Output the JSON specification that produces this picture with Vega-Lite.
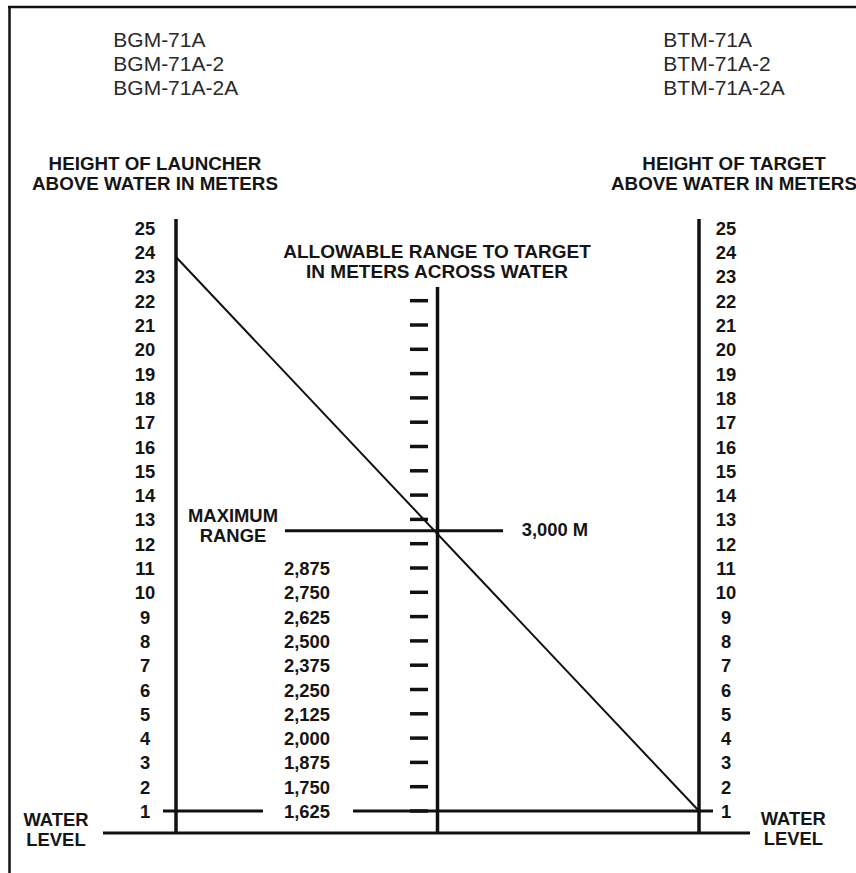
{
  "$schema": "https://vega.github.io/schema/vega-lite/v6.json",
  "width": 856,
  "height": 873,
  "autosize": {"type": "none"},
  "padding": 0,
  "background": "white",
  "config": {"view": {"stroke": null}, "text": {"font": "Liberation Sans", "fontWeight": "bold", "fontSize": 18.4, "color": "#151515"}, "rule": {"color": "#111111"}},
  "datasets": {
    "heights": [{"h":1},{"h":2},{"h":3},{"h":4},{"h":5},{"h":6},{"h":7},{"h":8},{"h":9},{"h":10},{"h":11},{"h":12},{"h":13},{"h":14},{"h":15},{"h":16},{"h":17},{"h":18},{"h":19},{"h":20},{"h":21},{"h":22},{"h":23},{"h":24},{"h":25}],
    "ranges": [
      {"h":1,"range":1625},{"h":2,"range":1750},{"h":3,"range":1875},{"h":4,"range":2000},{"h":5,"range":2125},{"h":6,"range":2250},{"h":7,"range":2375},{"h":8,"range":2500},{"h":9,"range":2625},{"h":10,"range":2750},{"h":11,"range":2875}
    ],
    "sight": [{"launcher": 23.8, "target": 1}]
  },
  "data": {"name": "sight"},
  "layer": [
    {"mark": {"type": "rule", "strokeWidth": 2.5},
     "encoding": {"x": {"datum": -0.6424, "type": "quantitative", "scale": {"domain": [-0.67304, 2.60038], "nice": false, "zero": false}, "axis": null},
                  "x2": {"datum": 2.6004},
                  "y": {"datum": 34.0864, "type": "quantitative", "scale": {"domain": [-1.5514, 34.3745], "nice": false, "zero": false}, "axis": null}}},
    {"mark": {"type": "rule", "strokeWidth": 2.5},
     "encoding": {"x": {"datum": -0.6367, "type": "quantitative", "scale": {"domain": [-0.67304, 2.60038], "nice": false, "zero": false}, "axis": null},
                  "y": {"datum": 34.13, "type": "quantitative", "scale": {"domain": [-1.5514, 34.3745], "nice": false, "zero": false}, "axis": null},
                  "y2": {"datum": -1.5514}}},
    {"mark": {"type": "rule", "strokeWidth": 3.5},
     "encoding": {"x": {"datum": 0, "type": "quantitative", "scale": {"domain": [-0.67304, 2.60038], "nice": false, "zero": false}, "axis": null},
                  "y": {"datum": 0.0947, "type": "quantitative", "scale": {"domain": [-1.5514, 34.3745], "nice": false, "zero": false}, "axis": null},
                  "y2": {"datum": 25.362}}},
    {"mark": {"type": "rule", "strokeWidth": 3.5},
     "encoding": {"x": {"datum": 1, "type": "quantitative", "scale": {"domain": [-0.67304, 2.60038], "nice": false, "zero": false}, "axis": null},
                  "y": {"datum": 0.0947, "type": "quantitative", "scale": {"domain": [-1.5514, 34.3745], "nice": false, "zero": false}, "axis": null},
                  "y2": {"datum": 22.564}}},
    {"mark": {"type": "rule", "strokeWidth": 3.5},
     "encoding": {"x": {"datum": 2, "type": "quantitative", "scale": {"domain": [-0.67304, 2.60038], "nice": false, "zero": false}, "axis": null},
                  "y": {"datum": 0.0947, "type": "quantitative", "scale": {"domain": [-1.5514, 34.3745], "nice": false, "zero": false}, "axis": null},
                  "y2": {"datum": 25.362}}},
    {"mark": {"type": "rule", "strokeWidth": 3},
     "encoding": {"x": {"datum": -0.2792, "type": "quantitative", "scale": {"domain": [-0.67304, 2.60038], "nice": false, "zero": false}, "axis": null},
                  "x2": {"datum": 2.195},
                  "y": {"datum": 0.0947, "type": "quantitative", "scale": {"domain": [-1.5514, 34.3745], "nice": false, "zero": false}, "axis": null}}},
    {"mark": {"type": "rule", "strokeWidth": 3},
     "encoding": {"x": {"datum": -0.0497, "type": "quantitative", "scale": {"domain": [-0.67304, 2.60038], "nice": false, "zero": false}, "axis": null},
                  "x2": {"datum": 0.3327},
                  "y": {"datum": 1, "type": "quantitative", "scale": {"domain": [-1.5514, 34.3745], "nice": false, "zero": false}, "axis": null}}},
    {"mark": {"type": "rule", "strokeWidth": 3},
     "encoding": {"x": {"datum": 0.6769, "type": "quantitative", "scale": {"domain": [-0.67304, 2.60038], "nice": false, "zero": false}, "axis": null},
                  "x2": {"datum": 2.0535},
                  "y": {"datum": 1, "type": "quantitative", "scale": {"domain": [-1.5514, 34.3745], "nice": false, "zero": false}, "axis": null}}},
    {"mark": {"type": "rule", "strokeWidth": 3},
     "encoding": {"x": {"datum": 0.4168, "type": "quantitative", "scale": {"domain": [-0.67304, 2.60038], "nice": false, "zero": false}, "axis": null},
                  "x2": {"datum": 1.2505},
                  "y": {"datum": 12.535, "type": "quantitative", "scale": {"domain": [-1.5514, 34.3745], "nice": false, "zero": false}, "axis": null}}},
    {"data": {"name": "heights"},
     "transform": [{"filter": "datum.h <= 22"}],
     "mark": {"type": "rule", "strokeWidth": 3.5},
     "encoding": {"x": {"datum": 0.8948, "type": "quantitative", "scale": {"domain": [-0.67304, 2.60038], "nice": false, "zero": false}, "axis": null},
                  "x2": {"datum": 0.9637},
                  "y": {"field": "h", "type": "quantitative", "scale": {"domain": [-1.5514, 34.3745], "nice": false, "zero": false}, "axis": null}}},
    {"mark": {"type": "rule", "strokeWidth": 2},
     "encoding": {"x": {"datum": 0, "type": "quantitative", "scale": {"domain": [-0.67304, 2.60038], "nice": false, "zero": false}, "axis": null},
                  "x2": {"datum": 2},
                  "y": {"field": "launcher", "type": "quantitative", "scale": {"domain": [-1.5514, 34.3745], "nice": false, "zero": false}, "axis": null},
                  "y2": {"field": "target"}}},
    {"data": {"name": "heights"},
     "mark": {"type": "text", "align": "center", "baseline": "middle", "dx": -31, "dy": 1},
     "encoding": {"x": {"datum": 0, "type": "quantitative", "scale": {"domain": [-0.67304, 2.60038], "nice": false, "zero": false}, "axis": null},
                  "y": {"field": "h", "type": "quantitative", "scale": {"domain": [-1.5514, 34.3745], "nice": false, "zero": false}, "axis": null},
                  "text": {"field": "h", "type": "quantitative", "format": "d"}}},
    {"data": {"name": "heights"},
     "mark": {"type": "text", "align": "center", "baseline": "middle", "dx": 27, "dy": 1},
     "encoding": {"x": {"datum": 2, "type": "quantitative", "scale": {"domain": [-0.67304, 2.60038], "nice": false, "zero": false}, "axis": null},
                  "y": {"field": "h", "type": "quantitative", "scale": {"domain": [-1.5514, 34.3745], "nice": false, "zero": false}, "axis": null},
                  "text": {"field": "h", "type": "quantitative", "format": "d"}}},
    {"data": {"name": "ranges"},
     "mark": {"type": "text", "align": "right", "baseline": "middle", "dx": -107.5, "dy": 1},
     "encoding": {"x": {"datum": 1, "type": "quantitative", "scale": {"domain": [-0.67304, 2.60038], "nice": false, "zero": false}, "axis": null},
                  "y": {"field": "h", "type": "quantitative", "scale": {"domain": [-1.5514, 34.3745], "nice": false, "zero": false}, "axis": null},
                  "text": {"field": "range", "type": "quantitative", "format": ","}}},
    {"mark": {"type": "text", "align": "left", "baseline": "alphabetic", "fontWeight": "normal", "fontSize": 21, "lineHeight": 24, "color": "#2a2a2a", "text": ["BGM-71A", "BGM-71A-2", "BGM-71A-2A"]},
     "encoding": {"x": {"datum": -0.2398, "type": "quantitative", "scale": {"domain": [-0.67304, 2.60038], "nice": false, "zero": false}, "axis": null},
                  "y": {"datum": 32.42, "type": "quantitative", "scale": {"domain": [-1.5514, 34.3745], "nice": false, "zero": false}, "axis": null}}},
    {"mark": {"type": "text", "align": "left", "baseline": "alphabetic", "fontWeight": "normal", "fontSize": 21, "lineHeight": 24, "color": "#2a2a2a", "text": ["BTM-71A", "BTM-71A-2", "BTM-71A-2A"]},
     "encoding": {"x": {"datum": 1.8635, "type": "quantitative", "scale": {"domain": [-0.67304, 2.60038], "nice": false, "zero": false}, "axis": null},
                  "y": {"datum": 32.42, "type": "quantitative", "scale": {"domain": [-1.5514, 34.3745], "nice": false, "zero": false}, "axis": null}}},
    {"mark": {"type": "text", "align": "center", "baseline": "alphabetic", "fontSize": 18.8, "lineHeight": 20.5, "text": ["HEIGHT OF LAUNCHER", "ABOVE WATER IN METERS"]},
     "encoding": {"x": {"datum": -0.0803, "type": "quantitative", "scale": {"domain": [-0.67304, 2.60038], "nice": false, "zero": false}, "axis": null},
                  "y": {"datum": 27.379, "type": "quantitative", "scale": {"domain": [-1.5514, 34.3745], "nice": false, "zero": false}, "axis": null}}},
    {"mark": {"type": "text", "align": "center", "baseline": "alphabetic", "fontSize": 18.8, "lineHeight": 20.5, "text": ["HEIGHT OF TARGET", "ABOVE WATER IN METERS"]},
     "encoding": {"x": {"datum": 2.1338, "type": "quantitative", "scale": {"domain": [-0.67304, 2.60038], "nice": false, "zero": false}, "axis": null},
                  "y": {"datum": 27.379, "type": "quantitative", "scale": {"domain": [-1.5514, 34.3745], "nice": false, "zero": false}, "axis": null}}},
    {"mark": {"type": "text", "align": "center", "baseline": "alphabetic", "fontSize": 19, "lineHeight": 20, "text": ["ALLOWABLE RANGE TO TARGET", "IN METERS ACROSS WATER"]},
     "encoding": {"x": {"datum": 0.998, "type": "quantitative", "scale": {"domain": [-0.67304, 2.60038], "nice": false, "zero": false}, "axis": null},
                  "y": {"datum": 23.737, "type": "quantitative", "scale": {"domain": [-1.5514, 34.3745], "nice": false, "zero": false}, "axis": null}}},
    {"mark": {"type": "text", "align": "center", "baseline": "alphabetic", "lineHeight": 20, "text": ["MAXIMUM", "RANGE"]},
     "encoding": {"x": {"datum": 0.218, "type": "quantitative", "scale": {"domain": [-0.67304, 2.60038], "nice": false, "zero": false}, "axis": null},
                  "y": {"datum": 12.905, "type": "quantitative", "scale": {"domain": [-1.5514, 34.3745], "nice": false, "zero": false}, "axis": null}}},
    {"mark": {"type": "text", "align": "left", "baseline": "alphabetic", "text": "3,000 M"},
     "encoding": {"x": {"datum": 1.322, "type": "quantitative", "scale": {"domain": [-0.67304, 2.60038], "nice": false, "zero": false}, "axis": null},
                  "y": {"datum": 12.317, "type": "quantitative", "scale": {"domain": [-1.5514, 34.3745], "nice": false, "zero": false}, "axis": null}}},
    {"mark": {"type": "text", "align": "center", "baseline": "alphabetic", "lineHeight": 20, "text": ["WATER", "LEVEL"]},
     "encoding": {"x": {"datum": -0.4589, "type": "quantitative", "scale": {"domain": [-0.67304, 2.60038], "nice": false, "zero": false}, "axis": null},
                  "y": {"datum": 0.383, "type": "quantitative", "scale": {"domain": [-1.5514, 34.3745], "nice": false, "zero": false}, "axis": null}}},
    {"mark": {"type": "text", "align": "center", "baseline": "alphabetic", "lineHeight": 20, "text": ["WATER", "LEVEL"]},
     "encoding": {"x": {"datum": 2.3606, "type": "quantitative", "scale": {"domain": [-0.67304, 2.60038], "nice": false, "zero": false}, "axis": null},
                  "y": {"datum": 0.424, "type": "quantitative", "scale": {"domain": [-1.5514, 34.3745], "nice": false, "zero": false}, "axis": null}}}
  ]
}
